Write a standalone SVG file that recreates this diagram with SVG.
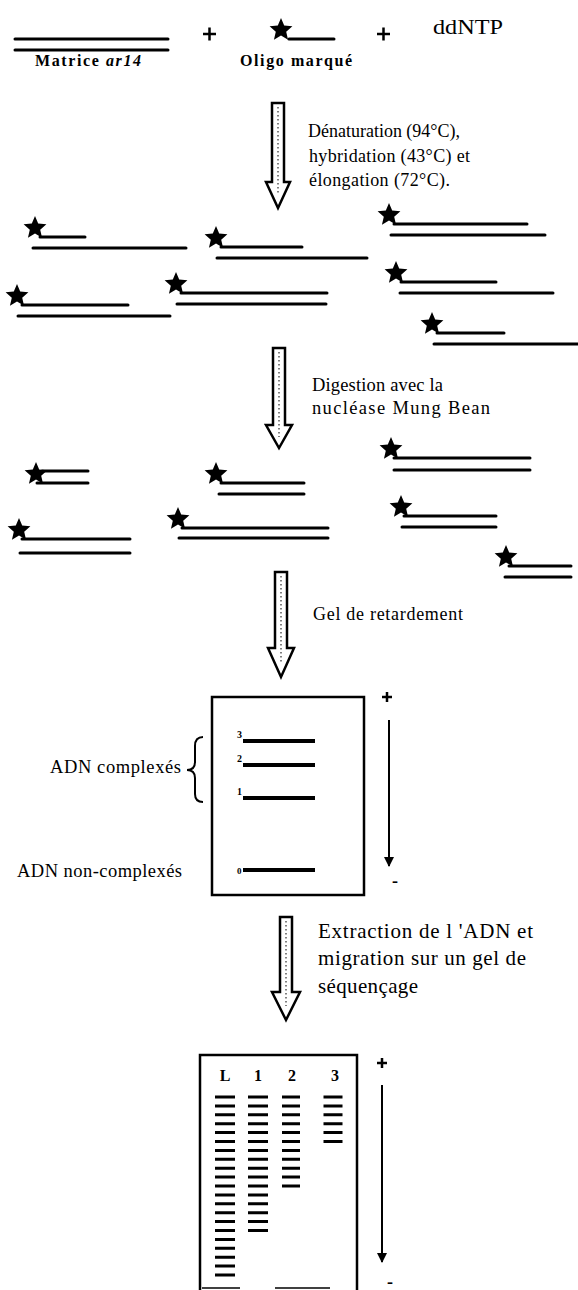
<svg xmlns="http://www.w3.org/2000/svg" xmlns:xlink="http://www.w3.org/1999/xlink" width="578" height="1290" viewBox="0 0 578 1290">
<style>
.ln{stroke:#000;stroke-width:3;stroke-linecap:round;fill:none}
.band{stroke:#000;stroke-width:4;fill:none}
.box{fill:none;stroke:#000;stroke-width:2.5}
.blk{fill:#fff;stroke:#000;stroke-width:2.5;stroke-linejoin:miter}
.hatch{stroke:#555;stroke-width:1.5;stroke-dasharray:1.5 2.5;fill:none}
.t{font-family:"Liberation Serif","Times New Roman",serif;fill:#000}
.b{font-weight:bold}
.thin{stroke:#000;stroke-width:2;fill:none}
.plus{stroke:#000;stroke-width:2.5;fill:none}
</style>
<defs>
<polygon id="star" points="0,-12 3.2,-4.4 11.4,-3.7 5.2,1.7 7.05,9.7 0,5.4 -7.05,9.7 -5.2,1.7 -11.4,-3.7 -3.2,-4.4" fill="#000"/>
<marker id="ah" viewBox="0 0 10 10" refX="9" refY="5" markerWidth="5" markerHeight="6" orient="auto" markerUnits="strokeWidth"><path d="M0,0 L10,5 L0,10 z" fill="#000"/></marker>
</defs>
<rect width="578" height="1290" fill="#fff"/>

<!-- top row -->
<g id="matrice">
<line class="ln" x1="15" y1="39" x2="168" y2="39"/>
<line class="ln" x1="15" y1="50" x2="168" y2="50"/>
<text class="t b" x="35" y="66" font-size="16" textLength="106" lengthAdjust="spacing">Matrice <tspan font-style="italic">ar14</tspan></text>
</g>
<g id="plus1"><path class="plus" d="M203,34 H216 M209.5,27.5 V40.5"/></g>
<g id="oligo">
<use xlink:href="#star" x="281" y="30"/>
<line class="ln" x1="289" y1="39" x2="334" y2="39"/>
<text class="t b" x="240" y="66" font-size="16" textLength="112" lengthAdjust="spacing">Oligo marqué</text>
</g>
<g id="plus2"><path class="plus" d="M377,34 H390 M383.5,27.5 V40.5"/></g>
<g id="ddntp"><text class="t" x="433" y="34" font-size="20" textLength="70" lengthAdjust="spacingAndGlyphs">ddNTP</text></g>

<!-- step 1 -->
<g id="arrow1">
<polygon class="blk" points="272,103 284,103 284,182 290,182 278,208 266,182 272,182"/>
<line class="hatch" x1="278" y1="107" x2="278" y2="195"/>
</g>
<g id="label1">
<text class="t" x="308" y="137" font-size="18" textLength="152" lengthAdjust="spacing">Dénaturation (94°C),</text>
<text class="t" x="309" y="162" font-size="18" textLength="161" lengthAdjust="spacing">hybridation (43°C) et</text>
<text class="t" x="309" y="186" font-size="18" textLength="141" lengthAdjust="spacing">élongation (72°C).</text>
</g>

<g id="hybrides">
<use xlink:href="#star" x="35" y="228"/>
<line class="ln" x1="40" y1="237" x2="85" y2="237"/>
<line class="ln" x1="33" y1="248" x2="186" y2="248"/>
<use xlink:href="#star" x="216" y="238"/>
<line class="ln" x1="221" y1="247" x2="302" y2="247"/>
<line class="ln" x1="217" y1="258" x2="367" y2="258"/>
<use xlink:href="#star" x="389" y="215"/>
<line class="ln" x1="394" y1="224" x2="527" y2="224"/>
<line class="ln" x1="391" y1="235" x2="545" y2="235"/>
<use xlink:href="#star" x="396" y="273"/>
<line class="ln" x1="401" y1="282" x2="496" y2="282"/>
<line class="ln" x1="400" y1="293" x2="553" y2="293"/>
<use xlink:href="#star" x="17" y="296"/>
<line class="ln" x1="22" y1="305" x2="128" y2="305"/>
<line class="ln" x1="18" y1="316" x2="170" y2="316"/>
<use xlink:href="#star" x="176" y="284"/>
<line class="ln" x1="181" y1="293" x2="327" y2="293"/>
<line class="ln" x1="177" y1="304" x2="326" y2="304"/>
<use xlink:href="#star" x="432" y="324"/>
<line class="ln" x1="437" y1="333" x2="504" y2="333"/>
<line class="ln" x1="434" y1="344" x2="578" y2="344"/>
</g>

<!-- step 2 -->
<g id="arrow2">
<polygon class="blk" points="273,348 285,348 285,425 292,425 279,448 266,425 273,425"/>
<line class="hatch" x1="279" y1="352" x2="279" y2="437"/>
</g>
<g id="label2">
<text class="t" x="312" y="391" font-size="18.5" textLength="131" lengthAdjust="spacing">Digestion avec la</text>
<text class="t" x="312" y="414" font-size="18.5" textLength="178" lengthAdjust="spacing">nucléase Mung Bean</text>
</g>

<g id="digeres">
<use xlink:href="#star" x="36" y="474"/>
<line class="ln" x1="42" y1="471" x2="88" y2="471"/>
<line class="ln" x1="37" y1="483" x2="88" y2="483"/>
<use xlink:href="#star" x="216" y="474"/>
<line class="ln" x1="221" y1="483" x2="304" y2="483"/>
<line class="ln" x1="219" y1="494" x2="304" y2="494"/>
<use xlink:href="#star" x="391" y="449"/>
<line class="ln" x1="394" y1="458" x2="530" y2="458"/>
<line class="ln" x1="394" y1="470" x2="530" y2="470"/>
<use xlink:href="#star" x="401" y="507"/>
<line class="ln" x1="404" y1="516" x2="496" y2="516"/>
<line class="ln" x1="402" y1="527" x2="496" y2="527"/>
<use xlink:href="#star" x="19" y="530"/>
<line class="ln" x1="22" y1="539" x2="130" y2="539"/>
<line class="ln" x1="20" y1="553" x2="130" y2="553"/>
<use xlink:href="#star" x="178" y="519"/>
<line class="ln" x1="182" y1="528" x2="328" y2="528"/>
<line class="ln" x1="179" y1="538" x2="328" y2="538"/>
<use xlink:href="#star" x="506" y="557"/>
<line class="ln" x1="509" y1="566" x2="571" y2="566"/>
<line class="ln" x1="505" y1="577" x2="571" y2="577"/>
</g>

<!-- step 3 -->
<g id="arrow3">
<polygon class="blk" points="275,572 287,572 287,648 294,648 281,677 268,648 275,648"/>
<line class="hatch" x1="281" y1="576" x2="281" y2="664"/>
</g>
<g id="label3"><text class="t" x="313" y="620" font-size="18" textLength="150" lengthAdjust="spacing">Gel de retardement</text></g>

<g id="gel1">
<rect class="box" x="212" y="697" width="152" height="198"/>
<line class="band" x1="243" y1="741" x2="315" y2="741"/>
<line class="band" x1="243" y1="765" x2="315" y2="765"/>
<line class="band" x1="243" y1="798" x2="315" y2="798"/>
<line class="band" x1="243" y1="870" x2="315" y2="870"/>
<text class="t b" x="237" y="738" font-size="10">3</text>
<text class="t b" x="237" y="762" font-size="10">2</text>
<text class="t b" x="237" y="795" font-size="10">1</text>
<text class="t b" x="237" y="874" font-size="9">0</text>
<path class="plus" d="M382,697 H392 M387,692 V702"/>
<text class="t b" x="395" y="887" font-size="18" text-anchor="middle">-</text>
</g>
<g id="labels-gel1">
<text class="t" x="50" y="773" font-size="18.5" textLength="131" lengthAdjust="spacing">ADN complexés</text>
<path class="thin" d="M203,737 Q195,737 195,746 L195,762 Q195,770 187,770 Q195,770 195,778 L195,794 Q195,802 203,802" stroke-width="1.5"/>
<text class="t" x="17" y="877" font-size="18.5" textLength="165" lengthAdjust="spacing">ADN non-complexés</text>
</g>

<!-- step 4 -->
<g id="arrow4">
<polygon class="blk" points="280,917 292,917 292,992 300,992 286,1020 272,992 280,992"/>
<line class="hatch" x1="286" y1="921" x2="286" y2="1006"/>
</g>
<g id="label4">
<text class="t" x="318" y="938" font-size="21" textLength="215" lengthAdjust="spacing">Extraction de l 'ADN et</text>
<text class="t" x="318" y="965" font-size="21" textLength="208" lengthAdjust="spacing">migration sur un gel de</text>
<text class="t" x="318" y="993" font-size="21" textLength="100" lengthAdjust="spacing">séquençage</text>
</g>

<g id="gel2">
<path class="box" d="M200,1290 L200,1055 L357,1055 L357,1290"/>
<line stroke="#000" stroke-width="1.5" x1="202" y1="1288" x2="240" y2="1288"/>
<line stroke="#000" stroke-width="1.5" x1="275" y1="1288" x2="330" y2="1288"/>
<text class="t b" x="225" y="1081" font-size="16" text-anchor="middle">L</text>
<text class="t b" x="258" y="1081" font-size="16" text-anchor="middle">1</text>
<text class="t b" x="292" y="1081" font-size="16" text-anchor="middle">2</text>
<text class="t b" x="335" y="1081" font-size="16" text-anchor="middle">3</text>
<line stroke="#000" stroke-width="20" stroke-dasharray="3 5.9" x1="225" y1="1095.5" x2="225" y2="1277"/>
<line stroke="#000" stroke-width="20" stroke-dasharray="3 5.9" x1="258" y1="1095.5" x2="258" y2="1232"/>
<line stroke="#000" stroke-width="18" stroke-dasharray="3 5.9" x1="291" y1="1095.5" x2="291" y2="1188"/>
<line stroke="#000" stroke-width="19" stroke-dasharray="3 5.9" x1="333" y1="1095.5" x2="333" y2="1143"/>
<path class="plus" d="M377,1063 H387 M382,1058 V1068"/>
<text class="t b" x="390" y="1288" font-size="18" text-anchor="middle">-</text>
</g>

<g id="connectors">
<line class="thin" x1="389" y1="720" x2="389" y2="866" marker-end="url(#ah)"/>
<line class="thin" x1="382" y1="1085" x2="382" y2="1262" marker-end="url(#ah)"/>
</g>
</svg>
